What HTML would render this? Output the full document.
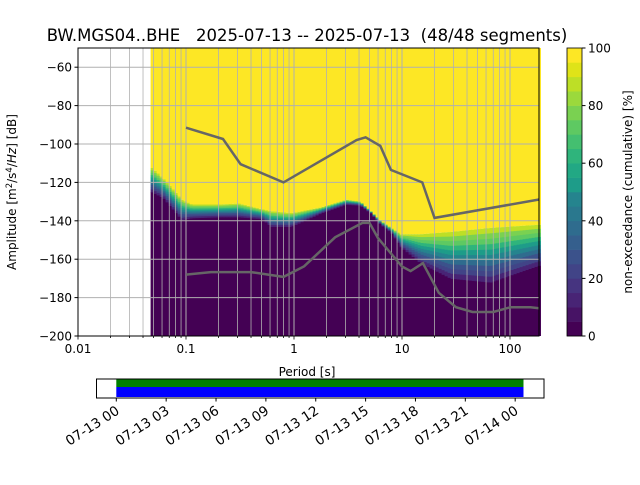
<!DOCTYPE html>
<html><head><meta charset="utf-8"><style>
body{margin:0;background:#fff;}
svg text{font-family:"DejaVu Sans","Liberation Sans",sans-serif;fill:#000;}
</style></head><body>
<svg id="s" width="640" height="480" xmlns="http://www.w3.org/2000/svg">
<g id="heat"></g>
<g id="grid"></g>
<g id="models"></g>
<rect x="78" y="48" width="461" height="288" fill="none" stroke="#000" stroke-width="1"/>
<g id="axes"></g>
<text x="307" y="41" font-size="16.5" text-anchor="middle" style="white-space:pre" xml:space="preserve">BW.MGS04..BHE   2025-07-13 -- 2025-07-13  (48/48 segments)</text>
<text x="307" y="376" font-size="12" text-anchor="middle">Period [s]</text>
<text transform="translate(16,192) rotate(-90)" font-size="12" text-anchor="middle">Amplitude [m<tspan font-size="8.5" dy="-4">2</tspan><tspan dy="4">/s</tspan><tspan font-size="8.5" dy="-4">4</tspan><tspan dy="4">/</tspan><tspan font-style="italic">Hz</tspan>] [dB]</text>
<g id="cbar"></g>
<text transform="translate(632,192) rotate(-90)" font-size="12" text-anchor="middle">non-exceedance (cumulative) [%]</text>
<g id="tbar"></g>
</svg>
<script>
const periods = [0.047,0.06,0.089,0.11,0.2,0.3,0.49,0.6,0.92,1.74,2.96,4.0,5.0,6.2,7.7,9.5,14.5,27.5,64,186];
const darkTop = [-125,-128,-139.5,-138.5,-138,-138,-139,-143,-143,-136,-131.5,-132,-136,-142,-146,-153.6,-162,-170,-172,-163];
const yellowBottom = [-112.5,-118,-129,-131.5,-131.5,-131,-134,-135,-136,-133,-129,-130,-135,-140,-143.7,-147,-147,-145.8,-143.7,-142];
const nhnmP=[0.1,0.22,0.32,0.8,3.8,4.6,6.3,7.9,15.4,20,186];
const nhnmDb=[-91.5,-97.4,-110.5,-120,-97.9,-96.5,-101,-113.5,-120,-138.5,-128.9];
const nlnmP=[0.1,0.17,0.4,0.8,1.24,2.4,4.3,5,6,10,12,15.6,21.9,31.6,45,70,101,154,186];
const nlnmDb=[-168,-166.7,-166.7,-169.2,-163.7,-148.6,-141.1,-141.1,-149,-163.8,-166.2,-162.1,-177.5,-185,-187.5,-187.5,-185,-185,-185.5];
const yTicks=[-60,-80,-100,-120,-140,-160,-180,-200];
const xTickLabels=["0.01","0.1","1","10","100"];
const cbTicks=[0,20,40,60,80,100];
const timeLabels=["07-13 00","07-13 03","07-13 06","07-13 09","07-13 12","07-13 15","07-13 18","07-13 21","07-14 00"];
const coverageHours=[0,24.5];

const NS="http://www.w3.org/2000/svg";
const X=p=>78+(Math.log10(p)+2)*108;
const Y=d=>48+(-50-d)*(288/150);
const vir=["#440154","#471365","#482475","#463480","#414487","#3b528b","#355f8d","#2f6c8e","#2a788e","#25848e","#21918c","#1e9c89","#22a884","#2fb47c","#44bf70","#5ec962","#7ad151","#9bd93c","#bddf26","#dfe318","#fde725"];
function mk(t,a,par){const e=document.createElementNS(NS,t);for(const k in a)e.setAttribute(k,a[k]);document.getElementById(par).appendChild(e);return e;}
function interp(xs,ys,lp){const L=xs.map(Math.log10);if(lp<=L[0])return ys[0];for(let i=1;i<L.length;i++)if(lp<=L[i]){const t=(lp-L[i-1])/(L[i]-L[i-1]);return ys[i-1]+t*(ys[i]-ys[i-1]);}return ys[ys.length-1];}
const x0=X(periods[0]),x1=X(periods[periods.length-1]);
for(let x=x0;x<x1;x+=3){
  const lp=Math.log10(periods[0])+(x-x0)/108;
  const dt=interp(periods,darkTop,lp), yb=interp(periods,yellowBottom,lp);
  const yd=Y(dt), yy=Y(yb);
  let r=mk("rect",{x:x,y:48,width:3.4,height:yy-48,fill:vir[20]},"heat");
  
  r=mk("rect",{x:x,y:yd,width:3.4,height:336-yd,fill:vir[0]},"heat");
  
  const n=10,h=(yd-yy)/n;
  for(let k=0;k<n;k++){
    const c=vir[Math.round(20-(k+1)*20/(n+1))];
    r=mk("rect",{x:x,y:yy+k*h,width:3.4,height:h+0.4,fill:c},"heat");
    
  }
}
for(let d=0;d<=4;d++)for(let m=1;m<10;m++){
  const p=Math.pow(10,d-2)*m, x=X(p); if(x>539)continue;
  const l=mk("line",{x1:x,x2:x,y1:48,y2:336,stroke:"#b0b0b0","stroke-width":m==1?1:0.8},"grid");
  
  const t=mk("line",{x1:x,x2:x,y1:336,y2:m==1?339.5:338,stroke:"#000","stroke-width":0.8},"axes");
  
}
xTickLabels.forEach((s,i)=>{const t=mk("text",{x:X(Math.pow(10,i-2)),y:353,"font-size":"12","text-anchor":"middle"},"axes");t.textContent=s;
});
yTicks.forEach(v=>{const y=Y(v);
 const l=mk("line",{x1:78,x2:539,y1:y,y2:y,stroke:"#b0b0b0","stroke-width":1},"grid");
 
 const tk=mk("line",{x1:74.5,x2:78,y1:y,y2:y,stroke:"#000"},"axes");
 
 const t=mk("text",{x:72,y:y+4.5,"font-size":"12","text-anchor":"end"},"axes");t.textContent="\u2212"+Math.abs(v);
 });
function poly(P,D,name){const pts=P.map((p,i)=>X(p).toFixed(1)+","+Y(D[i]).toFixed(1)).join(" ");
 const e=mk("polyline",{points:pts,fill:"none",stroke:"#666","stroke-width":2.5},"models");
 }
poly(nhnmP,nhnmDb,'nhnm-line');poly(nlnmP,nlnmDb,'nlnm-line');
for(let i=0;i<20;i++){const y=336-(i+1)*288/20;
 const r=mk("rect",{x:567,y:y,width:15,height:288/20+0.3,fill:vir[Math.round(i*20/19)]},"cbar");
 }
mk("rect",{x:567,y:48,width:15,height:288,fill:"none",stroke:"#000","stroke-width":0.8},"cbar");
cbTicks.forEach(v=>{const y=336-v*2.88;
 const l=mk("line",{x1:582,x2:585.5,y1:y,y2:y,stroke:"#000"},"cbar");
 
 const t=mk("text",{x:588,y:y+4.5,"font-size":"12"},"cbar");t.textContent=v;
 });
const H=h=>116.3+h*16.62;
let r=mk("rect",{x:H(coverageHours[0]),y:379,width:H(coverageHours[1])-H(coverageHours[0]),height:8,fill:"#008000"},"tbar");

r=mk("rect",{x:H(coverageHours[0]),y:387,width:H(coverageHours[1])-H(coverageHours[0]),height:10,fill:"#0000ff"},"tbar");

mk("rect",{x:96.5,y:379,width:447.5,height:19,fill:"none",stroke:"#000","stroke-width":1},"tbar");
timeLabels.forEach((s,i)=>{const x=H(i*3);
 const l=mk("line",{x1:x,x2:x,y1:398,y2:401.5,stroke:"#000"},"tbar");
 
 const t=mk("text",{transform:`translate(${x+4},413) rotate(-33)`,"font-size":"13.5","text-anchor":"end"},"tbar");t.textContent=s;
 });
</script>
</body></html>
